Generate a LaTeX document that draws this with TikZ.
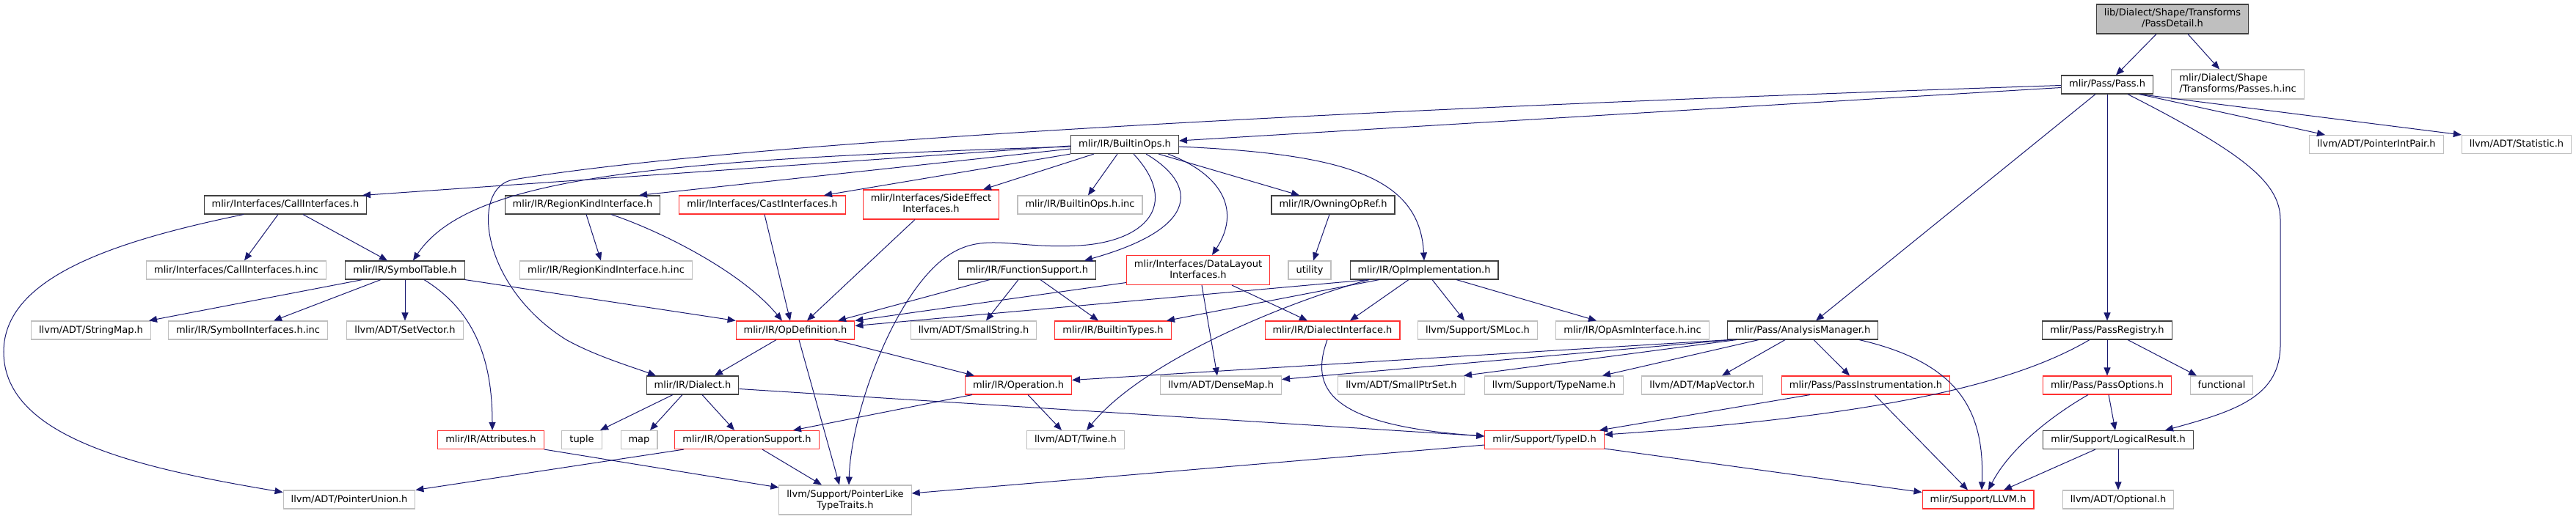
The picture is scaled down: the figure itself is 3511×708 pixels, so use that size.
\documentclass[tikz,border=0pt]{standalone}
\usepackage{fontspec}
\setmainfont{DejaVu Sans}
\usetikzlibrary{arrows.meta,calc}

\definecolor{edgeblue}{HTML}{191970}
\definecolor{nodeblack}{HTML}{404040}
\definecolor{nodered}{HTML}{FF3030}
\definecolor{nodegray}{HTML}{BFBFBF}
\definecolor{rootfill}{HTML}{BFBFBF}

\tikzset{
  hbox/.style={rectangle, inner xsep=10.5, inner ysep=0, minimum height=25,
    text height=10, text depth=3, font=\fontsize{13}{15}\selectfont, line width=1.1},
  hblack/.style={hbox, draw=nodeblack, fill=white},
  hred/.style={hbox, draw=nodered, fill=white},
  hgray/.style={hbox, draw=nodegray, fill=white},
  hroot/.style={hbox, draw=nodeblack, fill=rootfill},
  tall/.style={align=center, minimum height=40, text height=25},
  incl/.style={draw=edgeblue, line width=1.0, -{Triangle[length=11pt,width=9pt]}}
}

\begin{document}
\begin{tikzpicture}[x=1pt,y=1pt,yscale=-1,xscale=1]
\useasboundingbox (0,0) rectangle (3511,708);

%Row 0 and 1
\node[hroot, tall] (pd) at (2961,26) {lib/Dialect/Shape/Transforms\\/PassDetail.h};
\node[hblack] (pass) at (2872,115.5) {mlir/Pass/Pass.h};
\node[hgray, tall, align=left] (passinc) at (3050,115) {mlir/Dialect/Shape\\/Transforms/Passes.h.inc};

%Row 2
\node[hblack] (bops) at (1533,197) {mlir/IR/BuiltinOps.h};
\node[hgray] (pip) at (3239,197) {llvm/ADT/PointerIntPair.h};
\node[hgray] (stat) at (3430,197) {llvm/ADT/Statistic.h};

%Row 3
\node[hblack] (calli) at (389,279.5) {mlir/Interfaces/CallInterfaces.h};
\node[hblack] (rki) at (794,279.5) {mlir/IR/RegionKindInterface.h};
\node[hred] (casti) at (1039,279.5) {mlir/Interfaces/CastInterfaces.h};
\node[hred, tall] (sidee) at (1269,279) {mlir/Interfaces/SideEffect\\Interfaces.h};
\node[hgray] (bopsinc) at (1472,279.5) {mlir/IR/BuiltinOps.h.inc};
\node[hblack] (owning) at (1817,279.5) {mlir/IR/OwningOpRef.h};

%Row 4
\node[hgray] (callinc) at (322,368.5) {mlir/Interfaces/CallInterfaces.h.inc};
\node[hblack] (symtab) at (552,368.5) {mlir/IR/SymbolTable.h};
\node[hgray] (rkiinc) at (826,368.5) {mlir/IR/RegionKindInterface.h.inc};
\node[hblack] (funcsup) at (1400,368.5) {mlir/IR/FunctionSupport.h};
\node[hred, tall] (datal) at (1633,368.5) {mlir/Interfaces/DataLayout\\Interfaces.h};
\node[hgray] (utility) at (1785,368.5) {utility};
\node[hblack] (opimpl) at (1941,368.5) {mlir/IR/OpImplementation.h};

%Row 5
\node[hgray] (strmap) at (124,450.5) {llvm/ADT/StringMap.h};
\node[hgray] (syminc) at (338,450.5) {mlir/IR/SymbolInterfaces.h.inc};
\node[hgray] (setvec) at (552,450.5) {llvm/ADT/SetVector.h};
\node[hred] (opdef) at (1084,450.5) {mlir/IR/OpDefinition.h};
\node[hgray] (smallstr) at (1327,450.5) {llvm/ADT/SmallString.h};
\node[hred] (btypes) at (1517,450.5) {mlir/IR/BuiltinTypes.h};
\node[hred] (dialint) at (1816,450.5) {mlir/IR/DialectInterface.h};
\node[hgray] (smloc) at (2014,450.5) {llvm/Support/SMLoc.h};
\node[hgray] (opasm) at (2225,450.5) {mlir/IR/OpAsmInterface.h.inc};
\node[hblack] (anmgr) at (2457,450.5) {mlir/Pass/AnalysisManager.h};
\node[hblack] (passreg) at (2872,450.5) {mlir/Pass/PassRegistry.h};

%Row 6
\node[hblack] (dialect) at (944,525.5) {mlir/IR/Dialect.h};
\node[hred] (oper) at (1388,525.5) {mlir/IR/Operation.h};
\node[hgray] (densemap) at (1664,525.5) {llvm/ADT/DenseMap.h};
\node[hgray] (smallptr) at (1910,525.5) {llvm/ADT/SmallPtrSet.h};
\node[hgray] (typename) at (2118,525.5) {llvm/Support/TypeName.h};
\node[hgray] (mapvec) at (2320,525.5) {llvm/ADT/MapVector.h};
\node[hred] (passinst) at (2543,525.5) {mlir/Pass/PassInstrumentation.h};
\node[hred] (passopt) at (2872,525.5) {mlir/Pass/PassOptions.h};
\node[hgray] (functional) at (3028,525.5) {functional};

%Row 7
\node[hred] (attr) at (669,600) {mlir/IR/Attributes.h};
\node[hgray] (tuple) at (793,600) {tuple};
\node[hgray] (map) at (871,600) {map};
\node[hred] (opsup) at (1018,600) {mlir/IR/OperationSupport.h};
\node[hgray] (twine) at (1466,600) {llvm/ADT/Twine.h};
\node[hred] (typeid) at (2105,600) {mlir/Support/TypeID.h};
\node[hblack] (logres) at (2887,600) {mlir/Support/LogicalResult.h};

%Row 8
\node[hgray] (ptrunion) at (476,681.5) {llvm/ADT/PointerUnion.h};
\node[hgray, tall] (ptrlike) at (1152,682) {llvm/Support/PointerLike\\TypeTraits.h};
\node[hred] (llvm) at (2696,681.5) {mlir/Support/LLVM.h};
\node[hgray] (optional) at (2887,681.5) {llvm/ADT/Optional.h};

%Edges from PassDetail.h
\draw[incl] ([xshift=-22]pd.south) -- ([xshift=12]pass.north);
\draw[incl] ([xshift=21]pd.south) -- ([xshift=-25]passinc.north);
%Edges from Pass.h
\draw[incl] ($(pass.west)+(0,4)$) -- ($(bops.east)+(0,-5)$);
\draw[incl] ($(pass.west)+(0,1)$) .. controls (1800,150) and (1000,195) .. (700,245) .. controls (640,255) and (655,390) .. (771,463) .. controls (810,485) and (860,500) .. ([xshift=-50]dialect.north);
\draw[incl] ([xshift=44]pass.south) -- ([xshift=-70]pip.north);
\draw[incl] ([xshift=44]pass.south) -- (stat.north west);
\draw[incl] ([xshift=28]pass.south) .. controls (3060,210) and (3108,250) .. (3108,300) -- (3108,470) .. controls (3108,540) and (3050,560) .. ([xshift=64]logres.north);
\draw[incl] ([xshift=-16]pass.south) -- ([xshift=18]anmgr.north);
\draw[incl] (pass.south) -- (passreg.north);

%Edges from BuiltinOps.h
\draw[incl] ($(bops.west)+(0,2)$) -- ([xshift=105]calli.north);
\draw[incl] ($(bops.west)+(0,3)$) .. controls (900,218) and (640,240) .. ([xshift=11]symtab.north);
\draw[incl] ($(bops.west)+(0,6)$) -- ([xshift=77]rki.north);
\draw[incl] ([xshift=-74]bops.south) -- ([xshift=84]casti.north);
\draw[incl] ([xshift=-42]bops.south) -- ([xshift=71]sidee.north);
\draw[incl] ([xshift=-10]bops.south) -- ([xshift=11]bopsinc.north);
\draw[incl] ([xshift=12]bops.south) .. controls (1610,280) and (1560,330) .. (1470,335) .. controls (1380,340) and (1340,315) .. (1290,350) .. controls (1220,400) and (1160,560) .. ([xshift=5]ptrlike.north);
\draw[incl] ([xshift=29]bops.south) .. controls (1630,250) and (1640,310) .. ([xshift=78]funcsup.north);
\draw[incl] ([xshift=59]bops.south) .. controls (1670,240) and (1690,290) .. ([xshift=19]datal.north);
\draw[incl] ([xshift=46]bops.south) -- ([xshift=-46]owning.north);
\draw[incl] ($(bops.east)+(0,3)$) .. controls (1830,210) and (1935,240) .. (opimpl.north);

%Edges from CallInterfaces.h and SymbolTable.h
\draw[incl] ([xshift=-57]calli.south) .. controls (150,330) and (5,380) .. (5,480) .. controls (5,600) and (200,640) .. ($(ptrunion.west)+(0,-10)$);
\draw[incl] ([xshift=-10]calli.south) -- ([xshift=11]callinc.north);
\draw[incl] ([xshift=24]calli.south) -- ([xshift=-24]symtab.north);
\draw[incl] ([xshift=-58]symtab.south) -- ([xshift=79]strmap.north);
\draw[incl] ([xshift=-33]symtab.south) -- ([xshift=35]syminc.north);
\draw[incl] (symtab.south) -- (setvec.north);
\draw[incl] ([xshift=26]symtab.south) .. controls (640,420) and (671,480) .. ([xshift=2]attr.north);
\draw[incl] (symtab.south east) -- (opdef.north west);

%Edges into OpDefinition.h from row 3 and 4
\draw[incl] ([xshift=5]rki.south) -- ([xshift=-7]rkiinc.north);
\draw[incl] ([xshift=39]rki.south) .. controls (900,315) and (1010,370) .. ([xshift=-18]opdef.north);
\draw[incl] ([xshift=3]casti.south) -- ([xshift=-7]opdef.north);
\draw[incl] ([xshift=-22]sidee.south) -- ([xshift=16]opdef.north);
\draw[incl] ([xshift=-51]funcsup.south) -- ([xshift=58]opdef.north);
\draw[incl] ([xshift=-12]funcsup.south) -- ([xshift=17]smallstr.north);
\draw[incl] ([xshift=18]funcsup.south) -- ([xshift=-20]btypes.north);
\draw[incl] ($(datal.west)+(0,17)$) -- (opdef.north east);
\draw[incl] ([xshift=5]datal.south) -- ([xshift=-5]densemap.north);
\draw[incl] ([xshift=46]datal.south) -- ([xshift=-34]dialint.north);
\draw[incl] ([xshift=-5]owning.south) -- ([xshift=5]utility.north);

%Edges from OpImplementation.h
\draw[incl] ([xshift=-75]opimpl.south) -- ($(opdef.east)+(0,-6)$);
\draw[incl] ([xshift=-61]opimpl.south) -- ([xshift=73]btypes.north);
\draw[incl] ([xshift=-75]opimpl.south) .. controls (1760,410) and (1560,490) .. ([xshift=15]twine.north);
\draw[incl] ([xshift=-21]opimpl.south) -- ([xshift=24]dialint.north);
\draw[incl] ([xshift=11]opimpl.south) -- ([xshift=-18]smloc.north);
\draw[incl] ([xshift=44]opimpl.south) -- ([xshift=-49]opasm.north);
\draw[incl] ([xshift=-7]dialint.south) .. controls (1785,530) and (1810,580) .. ($(typeid.west)+(0,-5)$);

%Edges from AnalysisManager.h
\draw[incl] ([xshift=-100]anmgr.south) -- ($(oper.east)+(0,-7)$);
\draw[incl] ([xshift=-97]anmgr.south) -- ($(densemap.east)+(0,-8)$);
\draw[incl] ([xshift=-90]anmgr.south) -- ([xshift=85]smallptr.north);
\draw[incl] ([xshift=-60]anmgr.south) -- ([xshift=66]typename.north);
\draw[incl] ([xshift=-24]anmgr.south) -- ([xshift=27]mapvec.north);
\draw[incl] ([xshift=15]anmgr.south) -- ([xshift=-22]passinst.north);
\draw[incl] ([xshift=77]anmgr.south) .. controls (2670,495) and (2705,560) .. ([xshift=5]llvm.north);

%Edges from the pass headers
\draw[incl] ([xshift=-76]passinst.south) -- ([xshift=75]typeid.north);
\draw[incl] ([xshift=12]passinst.south) -- ([xshift=-14]llvm.north);
\draw[incl] ([xshift=-24]passreg.south) .. controls (2760,515) and (2600,565) .. ($(typeid.east)+(0,-7)$);
\draw[incl] (passreg.south) -- (passopt.north);
\draw[incl] ([xshift=28]passreg.south) -- ([xshift=-34]functional.north);
\draw[incl] ([xshift=-26]passopt.south) .. controls (2800,565) and (2740,610) .. ([xshift=14]llvm.north);
\draw[incl] ([xshift=2]passopt.south) -- ([xshift=-4]logres.north);
\draw[incl] ([xshift=-31]logres.south) -- ([xshift=35]llvm.north);
\draw[incl] (logres.south) -- (optional.north);

%Edges from TypeID.h and Dialect.h
\draw[incl] ($(typeid.east)+(0,12)$) -- ($(llvm.west)+(0,-10)$);
\draw[incl] ($(typeid.west)+(0,7)$) -- ($(ptrlike.east)+(0,-9)$);
\draw[incl] ($(dialect.east)+(0,5)$) -- ($(typeid.west)+(0,-5)$);
\draw[incl] ([xshift=-27]dialect.south) -- ([xshift=25]tuple.north);
\draw[incl] ([xshift=-14]dialect.south) -- ([xshift=15]map.north);
\draw[incl] ([xshift=13]dialect.south) -- ([xshift=-17]opsup.north);

%Edges from OpDefinition.h, Operation.h and below
\draw[incl] ([xshift=-26]opdef.south) -- ([xshift=30]dialect.north);
\draw[incl] ([xshift=5]opdef.south) -- ([xshift=-8]ptrlike.north);
\draw[incl] ([xshift=53]opdef.south) -- ([xshift=-60]oper.north);
\draw[incl] ([xshift=-63]oper.south) -- ([xshift=63]opsup.north);
\draw[incl] ([xshift=13]oper.south) -- ([xshift=-19]twine.north);
\draw[incl] (attr.south east) -- ($(ptrlike.west)+(0,-17)$);
\draw[incl] ([xshift=-86]opsup.south) -- (ptrunion.north east);
\draw[incl] ([xshift=21]opsup.south) -- ([xshift=-32]ptrlike.north);

\end{tikzpicture}
\end{document}
